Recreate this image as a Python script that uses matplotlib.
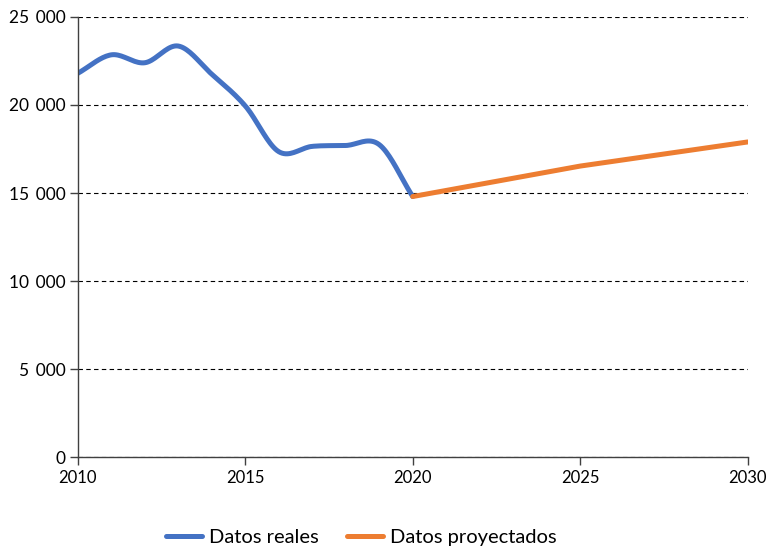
import numpy as np
import matplotlib.pyplot as plt
from matplotlib.ticker import FuncFormatter

plt.rcParams['font.family'] = ['Lato', 'DejaVu Sans']

# data
years_real = [2010, 2011, 2012, 2013, 2014, 2015, 2016, 2017, 2018, 2019, 2020]
values_real = [21800, 22850, 22400, 23350, 21750, 19950, 17350, 17650, 17700, 17750, 14800]
years_proj = [2020, 2025, 2030]
values_proj = [14800, 16530, 17900]
legend_labels = ['Datos reales', 'Datos proyectados']


def smooth(x, y, n=20):
    # catmull-rom style smoothing, similar to excel's smoothed line
    x = np.asarray(x, float)
    y = np.asarray(y, float)
    px = np.concatenate([[2 * x[0] - x[1]], x, [2 * x[-1] - x[-2]]])
    py = np.concatenate([[2 * y[0] - y[1]], y, [2 * y[-1] - y[-2]]])
    xs, ys = [], []
    t = np.linspace(0, 1, n, endpoint=False)
    for i in range(1, len(px) - 2):
        for p, out in ((px, xs), (py, ys)):
            p0, p1, p2, p3 = p[i - 1], p[i], p[i + 1], p[i + 2]
            out.extend(0.5 * ((2 * p1) + (-p0 + p2) * t
                              + (2 * p0 - 5 * p1 + 4 * p2 - p3) * t ** 2
                              + (-p0 + 3 * p1 - 3 * p2 + p3) * t ** 3))
    xs.append(x[-1])
    ys.append(y[-1])
    return np.array(xs), np.array(ys)


fig, ax = plt.subplots(figsize=(7.7, 5.48), dpi=100)
fig.subplots_adjust(left=0.101, right=0.971, top=0.969, bottom=0.166)

sx, sy = smooth(years_real, values_real)
ax.plot(sx, sy, color='#4472C4', lw=3.6, solid_capstyle='round', label=legend_labels[0])
ax.plot(years_proj, values_proj, color='#ED7D31', lw=3.6, solid_capstyle='round', label=legend_labels[1])

ax.set_xlim(2010, 2030)
ax.set_ylim(0, 25000)
ax.set_xticks(range(2010, 2031, 5))
ax.set_yticks(range(0, 25001, 5000))
ax.yaxis.set_major_formatter(FuncFormatter(lambda v, p: '{:,}'.format(int(v)).replace(',', '\u2009 ')))

ax.grid(axis='y', color='black', linestyle=(0, (4, 3)), lw=0.8)
ax.set_axisbelow(True)
for s in ['top', 'right']:
    ax.spines[s].set_visible(False)
for s in ['left', 'bottom']:
    ax.spines[s].set_color('#404040')
    ax.spines[s].set_linewidth(1.0)
ax.tick_params(axis='both', colors='#404040', labelcolor='black', labelsize=12, length=6, width=1)
ax.tick_params(axis='y', pad=3, labelsize=12.5)

ax.legend(loc='upper center', bbox_to_anchor=(0.423, -0.122), ncol=2, frameon=False,
          fontsize=14.5, handlelength=1.8, columnspacing=1.4, handletextpad=0.35)

fig.savefig('out.png', dpi=100)
